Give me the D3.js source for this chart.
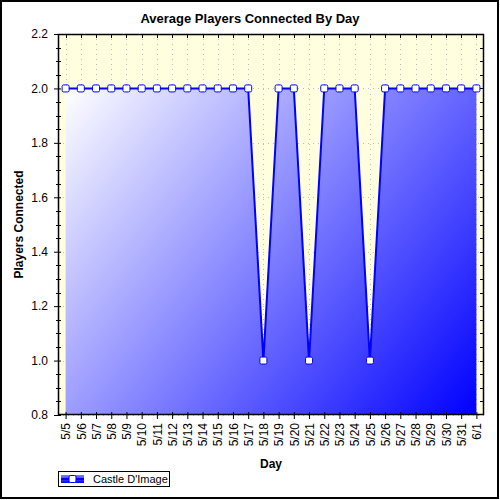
<!DOCTYPE html>
<html><head><meta charset="utf-8">
<script src="https://cdn.jsdelivr.net/npm/d3@7"></script>
<style>body{margin:0;background:#fff}svg{display:block}text{font-family:Arial,"Liberation Sans",sans-serif}</style>
</head><body><svg id="c" width="500" height="500"></svg>
<script>
const categories = ["5/5","5/6","5/7","5/8","5/9","5/10","5/11","5/12","5/13","5/14","5/15","5/16","5/17","5/18","5/19","5/20","5/21","5/22","5/23","5/24","5/25","5/26","5/27","5/28","5/29","5/30","5/31","6/1"];
const values = [2,2,2,2,2,2,2,2,2,2,2,2,2,1,2,2,1,2,2,2,1,2,2,2,2,2,2,2];
const yTicks = [0.8,1.0,1.2,1.4,1.6,1.8,2.0,2.2];
const seriesName = "Castle D'Image";

const svg = d3.select("#c");
const L=58, R=484, T=34, B=415;
const x = d3.scalePoint().domain(categories).range([L,R]).padding(0.5);
const y = d3.scaleLinear().domain([0.8,2.2]).range([B,T]);

const defs = svg.append("defs");
const g1 = defs.append("linearGradient").attr("id","fillg").attr("gradientUnits","userSpaceOnUse")
  .attr("x1",x(categories[0])).attr("y1",y(2)).attr("x2",x(categories[categories.length-1])).attr("y2",B);
g1.append("stop").attr("offset","0").attr("stop-color","#ffffff");
g1.append("stop").attr("offset","1").attr("stop-color","#0000ff");

// outer border
svg.append("rect").attr("x",1).attr("y",1).attr("width",497).attr("height",497).attr("fill","#fff").attr("stroke","#000").attr("stroke-width",2);

// plot background
svg.append("rect").attr("x",L).attr("y",T).attr("width",R-L).attr("height",B-T).attr("fill","#ffffdf");

// grid
const grid = svg.append("g").attr("stroke","#bdbdbd").attr("stroke-width",1).attr("stroke-dasharray","1,4");
categories.forEach(c=>grid.append("line").attr("x1",Math.round(x(c))+0.5).attr("x2",Math.round(x(c))+0.5).attr("y1",T).attr("y2",B));
yTicks.forEach(v=>grid.append("line").attr("x1",L).attr("x2",R).attr("y1",Math.round(y(v))+0.5).attr("y2",Math.round(y(v))+0.5));

// area
const area = d3.area().x(d=>x(d.c)).y0(B).y1(d=>y(d.v));
const data = categories.map((c,i)=>({c,v:values[i]}));
svg.append("path").datum(data).attr("d",area).attr("fill","url(#fillg)");
svg.append("path").datum(data).attr("d",d3.line().x(d=>x(d.c)).y(d=>y(d.v))).attr("fill","none").attr("stroke","#0000ff").attr("stroke-width",2);

// frame
svg.append("rect").attr("x",L+0.5).attr("y",T+0.5).attr("width",R-L-1).attr("height",B-T-1).attr("fill","none").attr("stroke","#000").attr("stroke-width",1.5);

// y axis
const yAxis = svg.append("g").attr("transform",`translate(${L},0)`)
  .call(d3.axisLeft(y).tickValues(yTicks).tickFormat(d3.format(".1f")).tickSize(4).tickPadding(6));
yAxis.select(".domain").remove();
yAxis.selectAll(".tick line").attr("stroke","#000").attr("x2",-4).attr("x1",3);
yAxis.selectAll("text").attr("font-size",12).attr("fill","#000");
const minor = d3.range(0.85,2.2,0.05).filter(v=>Math.abs(Math.round(v*5)-v*5)>0.01);
svg.append("g").selectAll("line").data(minor).join("line")
  .attr("x1",L-2).attr("x2",L+3).attr("y1",d=>Math.round(y(d))+0.5).attr("y2",d=>Math.round(y(d))+0.5).attr("stroke","#000");
// right ticks
svg.append("g").selectAll("line").data(d3.range(0.85,2.2,0.05)).join("line")
  .attr("x1",R-4).attr("x2",R).attr("y1",d=>Math.round(y(d))+0.5).attr("y2",d=>Math.round(y(d))+0.5).attr("stroke","#000");
// top ticks
svg.append("g").selectAll("line").data(categories).join("line")
  .attr("x1",d=>Math.round(x(d))+0.5).attr("x2",d=>Math.round(x(d))+0.5).attr("y1",T).attr("y2",T+4).attr("stroke","#000");

// x axis
const xAxis = svg.append("g").attr("transform",`translate(0,${B})`).call(d3.axisBottom(x).tickSize(4).tickPadding(6));
xAxis.select(".domain").remove();
xAxis.selectAll(".tick line").attr("stroke","#000").attr("y1",-3).attr("y2",4);
xAxis.selectAll("text").attr("font-size",12).attr("fill","#000")
  .attr("transform","rotate(-90)").attr("text-anchor","end").attr("dy","0.35em").attr("x",-8).attr("y",0);

// markers
svg.append("g").selectAll("rect").data(data).join("rect")
  .attr("x",d=>x(d.c)-3.5).attr("y",d=>y(d.v)-3.5).attr("width",7).attr("height",7).attr("rx",1.5)
  .attr("fill","#fff").attr("stroke","#0000ff").attr("stroke-width",1);

// titles
svg.append("text").attr("x",250).attr("y",23).attr("text-anchor","middle").attr("font-size",13).attr("font-weight","bold").text("Average Players Connected By Day");
svg.append("text").attr("transform",`translate(23,${(T+B)/2}) rotate(-90)`).attr("text-anchor","middle").attr("font-size",12).attr("font-weight","bold").text("Players Connected");
svg.append("text").attr("x",(L+R)/2).attr("y",468).attr("text-anchor","middle").attr("font-size",12).attr("font-weight","bold").text("Day");

// legend
const lg = svg.append("g");
lg.append("rect").attr("x",58.5).attr("y",471.5).attr("width",111).attr("height",15).attr("fill","#fff").attr("stroke","#000");
const g2 = defs.append("linearGradient").attr("id","lgg").attr("x1",0).attr("y1",0).attr("x2",0).attr("y2",1);
g2.append("stop").attr("offset","0").attr("stop-color","#8080ff");
g2.append("stop").attr("offset","1").attr("stop-color","#0000ff");
lg.append("rect").attr("x",61).attr("y",475).attr("width",23).attr("height",8).attr("fill","url(#lgg)");
lg.append("line").attr("x1",61).attr("x2",84).attr("y1",479).attr("y2",479).attr("stroke","#0000ff").attr("stroke-width",2);
lg.append("rect").attr("x",69).attr("y",475.5).attr("width",7).attr("height",7).attr("rx",1.5).attr("fill","#fff").attr("stroke","#0000ff");
lg.append("text").attr("x",93).attr("y",483).attr("font-size",11).text(seriesName);
</script></body></html>
